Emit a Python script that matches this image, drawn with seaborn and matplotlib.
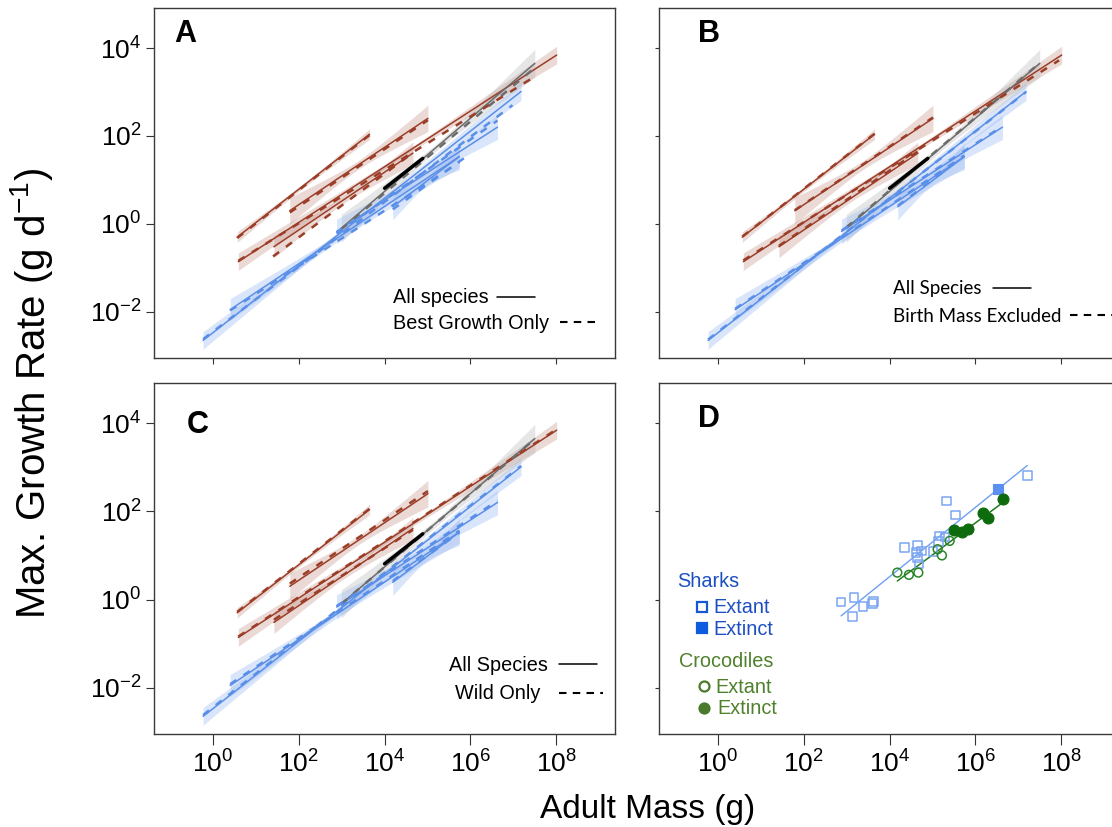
import numpy as np
import pandas as pd
import matplotlib
matplotlib.use("Agg")
import matplotlib.pyplot as plt
from matplotlib.lines import Line2D
from matplotlib.ticker import FixedLocator, FixedFormatter, NullLocator
import seaborn as sns

sns.set_theme(style="white")
plt.rcParams["font.family"] = ["Liberation Sans", "DejaVu Sans"]
plt.rcParams["mathtext.fontset"] = "custom"
plt.rcParams["mathtext.rm"] = "Liberation Sans"
plt.rcParams["mathtext.it"] = "Liberation Sans:italic"
plt.rcParams["mathtext.bf"] = "Liberation Sans:bold"
plt.rcParams["mathtext.default"] = "regular"
plt.rcParams["text.color"] = "black"
plt.rcParams["xtick.color"] = "black"
plt.rcParams["ytick.color"] = "black"
plt.rcParams["axes.labelcolor"] = "black"

# ---------------------------------------------------------------------------
# Allometric fits (log10 adult mass range, log10 max growth rate at both ends)
# ---------------------------------------------------------------------------
fit_group = ["brown", "brown", "brown", "brown", "grey", "blue", "blue", "blue", "blue"]
fit_logm0 = [0.565, 1.79, 0.59, 1.42, 2.99, -0.23, 0.40, 2.88, 4.19]
fit_logm1 = [3.65, 5.01, 8.01, 4.66, 7.50, 7.18, 5.74, 6.63, 5.74]
fit_logg0 = [-0.30, 0.30, -0.86, -0.52, -0.10, -2.65, -1.95, -0.17, 0.39]
fit_logg1 = [2.04, 2.40, 3.84, 1.61, 3.65, 3.01, 1.53, 2.20, 1.53]
ci_mid = [0.05, 0.10, 0.05, 0.08, 0.08, 0.05, 0.08, 0.08, 0.10]
ci_end = [0.12, 0.30, 0.20, 0.25, 0.32, 0.20, 0.25, 0.28, 0.30]

# highlighted segment of the grey fit
seg_logm = [4.00, 4.89]
seg_logg = [0.81, 1.49]

# alternative fits: best growth only (A)
best_logm0 = [0.565, 1.79, 0.59, 1.40, 2.99, -0.23, 0.40, 2.88, 4.19]
best_logm1 = [3.65, 5.01, 7.40, 4.66, 7.50, 6.98, 5.74, 6.63, 6.00]
best_logg0 = [-0.32, 0.26, -0.84, -0.74, -0.12, -2.62, -1.97, -0.22, 0.33]
best_logg1 = [2.02, 2.36, 3.29, 1.62, 3.55, 2.70, 1.40, 2.35, 1.60]

# birth mass excluded (B)
nobirth_logm0 = [0.565, 1.79, 0.59, 1.42, 2.99, -0.23, 0.40, 2.88, 4.19]
nobirth_logm1 = [3.65, 5.01, 7.95, 4.66, 7.50, 7.18, 5.74, 6.63, 5.74]
nobirth_logg0 = [-0.29, 0.31, -0.83, -0.50, -0.08, -2.63, -1.93, -0.15, 0.41]
nobirth_logg1 = [2.05, 2.42, 3.72, 1.65, 3.66, 3.00, 1.55, 2.22, 1.55]

# wild only (C)
wild_logm0 = [0.565, 1.79, 0.59, 1.42, 2.99, -0.23, 0.40, 2.88, 4.19]
wild_logm1 = [3.65, 5.01, 8.01, 4.66, 7.50, 7.18, 5.74, 6.63, 5.74]
wild_logg0 = [-0.28, 0.36, -0.84, -0.46, -0.10, -2.62, -1.92, -0.15, 0.42]
wild_logg1 = [2.06, 2.46, 3.86, 1.58, 3.64, 3.03, 1.56, 2.24, 1.52]

# ---------------------------------------------------------------------------
# Panel D: sharks and crocodiles (log10 mass, log10 growth rate)
# ---------------------------------------------------------------------------
shark_extant_logm = [2.87, 3.17, 3.13, 3.38, 3.60, 3.62, 4.35, 4.65, 4.62, 4.74,
                     4.65, 4.69, 5.01, 5.14, 5.16, 5.29, 5.33, 5.54, 7.21]
shark_extant_logg = [-0.06, 0.05, -0.39, -0.16, -0.09, -0.05, 1.18, 1.23, 1.06, 1.10,
                     0.95, 0.81, 1.09, 1.31, 1.44, 1.42, 2.23, 1.92, 2.81]
shark_extinct_logm = [6.53]
shark_extinct_logg = [2.50]
croc_extant_logm = [4.18, 4.45, 4.67, 5.12, 5.22, 5.40]
croc_extant_logg = [0.61, 0.56, 0.61, 1.14, 1.00, 1.33]
croc_extinct_logm = [5.50, 5.68, 5.82, 6.18, 6.29, 6.64]
croc_extinct_logg = [1.57, 1.54, 1.60, 1.96, 1.85, 2.29]
shark_line_logm = [2.87, 7.21]
shark_line_logg = [-0.37, 3.04]
croc_line_logm = [4.18, 6.64]
croc_line_logg = [0.42, 2.20]

xtick_exp = [0, 2, 4, 6, 8]
ytick_exp = [-2, 0, 2, 4]

line_col = {"brown": "#9c3d28", "grey": "#6c6c6c", "blue": "#5a8fe8"}
band_col = {"brown": "#c08a7e", "grey": "#b4b4b4", "blue": "#9dbcf3"}
band_alpha = {"brown": 0.32, "grey": 0.32, "blue": 0.38}

W, H = 1112, 827
fig = plt.figure(figsize=(W / 100, H / 100), dpi=100)


def px_rect(left, top, width, height):
    return [left / W, 1 - (top + height) / H, width / W, height / H]


def fpt(x, y):
    return x / W, 1 - y / H


def setup_axes(ax, xlabels, ylabels):
    ax.set_xscale("log")
    ax.set_yscale("log")
    ax.set_xlim(10 ** -1.375, 10 ** 9.37)
    ax.set_ylim(10 ** -3.05, 10 ** 4.91)
    ax.xaxis.set_major_locator(FixedLocator([10.0 ** e for e in xtick_exp]))
    ax.yaxis.set_major_locator(FixedLocator([10.0 ** e for e in ytick_exp]))
    ax.xaxis.set_minor_locator(NullLocator())
    ax.yaxis.set_minor_locator(NullLocator())
    ax.xaxis.set_major_formatter(FixedFormatter(
        [r"$10^{%d}$" % e if xlabels else "" for e in xtick_exp]))
    ax.yaxis.set_major_formatter(FixedFormatter(
        [r"$10^{%d}$" % e if ylabels else "" for e in ytick_exp]))
    ax.tick_params(axis="x", bottom=True, direction="out",
                   length=8 if xlabels else 4, width=0.8, color="#333333",
                   labelsize=19, pad=4, labelcolor="black")
    ax.tick_params(axis="y", left=True, direction="out",
                   length=6 if ylabels else 3, width=0.8, color="#333333",
                   labelsize=19, pad=3, labelcolor="black")
    for sp in ax.spines.values():
        sp.set_color("#3a3a3a")
        sp.set_linewidth(1.0)
    ax.grid(False)


def draw_fits(ax, alt_m0, alt_m1, alt_g0, alt_g1):
    # confidence bands
    for i, grp in enumerate(fit_group):
        xs = np.linspace(fit_logm0[i], fit_logm1[i], 60)
        yl = np.interp(xs, [fit_logm0[i], fit_logm1[i]], [fit_logg0[i], fit_logg1[i]])
        half = 0.5 * (fit_logm1[i] - fit_logm0[i])
        u = (xs - 0.5 * (fit_logm0[i] + fit_logm1[i])) / half
        hw = np.sqrt(ci_mid[i] ** 2 + (ci_end[i] ** 2 - ci_mid[i] ** 2) * u ** 2)
        ax.fill_between(10 ** xs, 10 ** (yl - hw), 10 ** (yl + hw),
                        color=band_col[grp], alpha=band_alpha[grp], lw=0, zorder=1)
    # fitted lines, all species
    for i, grp in enumerate(fit_group):
        sns.lineplot(x=10 ** np.array([fit_logm0[i], fit_logm1[i]]),
                     y=10 ** np.array([fit_logg0[i], fit_logg1[i]]),
                     ax=ax, color=line_col[grp], lw=1.1, estimator=None,
                     sort=False, zorder=3)
    # alternative subsets
    for i, grp in enumerate(fit_group):
        ax.plot(10 ** np.array([alt_m0[i], alt_m1[i]]),
                10 ** np.array([alt_g0[i], alt_g1[i]]),
                color=line_col[grp], lw=1.8, dashes=(3.0, 3.4), zorder=4)
    sns.lineplot(x=10 ** np.array(seg_logm), y=10 ** np.array(seg_logg),
                 ax=ax, color="black", lw=2.5, estimator=None, sort=False, zorder=5)


def key(x0, x1, y, dashed):
    fig.add_artist(Line2D([x0 / W, x1 / W], [1 - y / H, 1 - y / H],
                          color="black", lw=1.5 if dashed else 1.1,
                          dashes=(3.6, 3.0) if dashed else (None, None)))


axA = fig.add_axes(px_rect(154, 8, 461, 350))
axB = fig.add_axes(px_rect(659, 8, 461, 350))
axC = fig.add_axes(px_rect(154, 383, 461, 351))
axD = fig.add_axes(px_rect(659, 383, 461, 351))

setup_axes(axA, False, True)
setup_axes(axB, False, False)
setup_axes(axC, True, True)
setup_axes(axD, True, False)

draw_fits(axA, best_logm0, best_logm1, best_logg0, best_logg1)
draw_fits(axB, nobirth_logm0, nobirth_logm1, nobirth_logg0, nobirth_logg1)
draw_fits(axC, wild_logm0, wild_logm1, wild_logg0, wild_logg1)

# Panel D
sns.lineplot(x=10 ** np.array(shark_line_logm), y=10 ** np.array(shark_line_logg),
             ax=axD, color="#6e9ff2", lw=1.0, estimator=None, sort=False, zorder=2)
sns.lineplot(x=10 ** np.array(croc_line_logm), y=10 ** np.array(croc_line_logg),
             ax=axD, color="#1f7a1f", lw=1.1, estimator=None, sort=False, zorder=2)
sns.scatterplot(x=10 ** np.array(shark_extant_logm), y=10 ** np.array(shark_extant_logg),
                ax=axD, marker="s", s=38, fc="none", ec="#7aa5f2", linewidth=1.1, zorder=3)
sns.scatterplot(x=10 ** np.array(shark_extinct_logm), y=10 ** np.array(shark_extinct_logg),
                ax=axD, marker="s", s=44, fc="#5b8ff0", ec="#5b8ff0", linewidth=0.8, zorder=3)
sns.scatterplot(x=10 ** np.array(croc_extant_logm), y=10 ** np.array(croc_extant_logg),
                ax=axD, marker="o", s=40, fc="none", ec="#2a852a", linewidth=1.1, zorder=4)
sns.scatterplot(x=10 ** np.array(croc_extinct_logm), y=10 ** np.array(croc_extinct_logg),
                ax=axD, marker="o", s=62, fc="#0d6b0d", ec="#0d6b0d", linewidth=0.8, zorder=4)

# Panel letters
for lbl, (x, y) in zip("ABCD", [(174, 42), (698, 42), (187, 433), (698, 427)]):
    fig.text(*fpt(x, y), lbl, fontsize=22, fontweight="bold", ha="left", va="baseline",
             color="black")

# Line-style keys
fs_key = 14.3
fig.text(*fpt(393, 303), "All species", fontsize=fs_key, va="baseline")
key(497, 535, 297, False)
fig.text(*fpt(393, 329), "Best Growth Only", fontsize=fs_key, va="baseline")
key(560, 600, 322, True)

fig.text(*fpt(893, 294), "All Species", fontsize=13.5, va="baseline", family=["Lato", "DejaVu Sans"])
key(993, 1031, 288, False)
fig.text(*fpt(893, 322), "Birth Mass Excluded", fontsize=13.5, va="baseline", family=["Lato", "DejaVu Sans"])
key(1070, 1112, 315, True)

fig.text(*fpt(449, 671), "All Species", fontsize=fs_key, va="baseline")
key(559, 597, 664, False)
fig.text(*fpt(455, 699), "Wild Only", fontsize=fs_key, va="baseline")
key(559, 603, 693, True)

# Panel D key
shark_txt = "#1d4fc2"
croc_txt = "#4f802c"
fig.text(*fpt(677, 587), "Sharks", fontsize=fs_key, color=shark_txt, va="baseline")
fig.text(*fpt(713, 613), "Extant", fontsize=fs_key, color=shark_txt, va="baseline")
fig.text(*fpt(713, 635), "Extinct", fontsize=fs_key, color=shark_txt, va="baseline")
fig.text(*fpt(679, 667), "Crocodiles", fontsize=fs_key, color=croc_txt, va="baseline")
fig.text(*fpt(715, 693), "Extant", fontsize=fs_key, color=croc_txt, va="baseline")
fig.text(*fpt(717, 714), "Extinct", fontsize=fs_key, color=croc_txt, va="baseline")
for (x, y), mk, fc, ec in [((702, 607), "s", "none", "#1558d6"),
                           ((702, 628), "s", "#0d5ce0", "#0d5ce0"),
                           ((704, 686), "o", "none", "#4a7a2b"),
                           ((704, 708), "o", "#4a7a2b", "#4a7a2b")]:
    fig.add_artist(Line2D([x / W], [1 - y / H], marker=mk, ms=7.2, mfc=fc, mec=ec,
                          mew=1.6, ls="none"))

# Axis titles
fig.text(*fpt(32, 393), "Max. Growth Rate (g d$^{-1}$)", fontsize=29, rotation=90,
         ha="center", va="center")
fig.text(*fpt(648, 818), "Adult Mass (g)", fontsize=24, ha="center", va="baseline")

fig.savefig("out.png", dpi=100)
